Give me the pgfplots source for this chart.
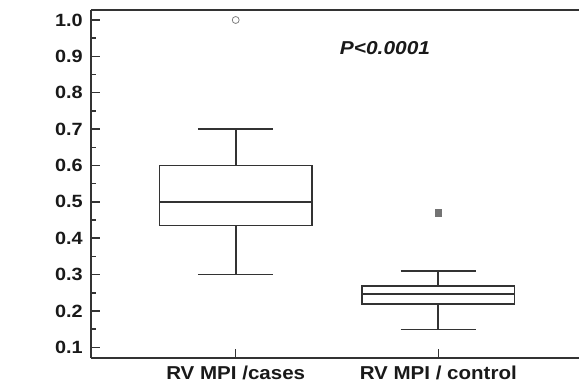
\documentclass[border=0pt]{standalone}
\usepackage{fontspec}
\setmainfont{Liberation Sans}
\usepackage{pgfplots}
\pgfplotsset{compat=1.18}
\usepgfplotslibrary{statistics}
\definecolor{lc}{HTML}{333333}
\begin{document}
\begin{tikzpicture}
\useasboundingbox (-68.25pt,-21.2pt) rectangle (366pt,268.3pt);
\begin{axis}[
  at={(0,0)}, anchor=south west,
  scale only axis, width=366pt, height=260.8pt,
  xmin=0.2858, xmax=2.6945, ymin=0.0714, ymax=1.0275,
  axis x line*=box, axis y line*=left,
  axis line style={lc, line width=1.5pt},
  every tick/.style={lc, line width=1.1pt},
  tick align=inside,
  major tick length=6.75pt, minor tick length=3.75pt,
  xtick={1,2}, xtick pos=left,
  xticklabels={RV MPI /cases, RV MPI / control},
  ytick={0.1,0.2,0.3,0.4,0.5,0.6,0.7,0.8,0.9,1.0},
  yticklabels={0.1,0.2,0.3,0.4,0.5,0.6,0.7,0.8,0.9,1.0},
  minor y tick num=1,
  yticklabel style={font=\bfseries\fontsize{13.3}{15}\selectfont, xscale=1.12, text=black!90, xshift=-2pt},
  xticklabel style={font=\bfseries\fontsize{14}{16}\selectfont, xscale=1.1, text=black!90, yshift=-2.5pt},
  boxplot/draw direction=y,
  clip=false,
]
\addplot[boxplot prepared={median=0.5, upper quartile=0.6, lower quartile=0.435,
   upper whisker=0.7, lower whisker=0.3, draw position=1,
   box extend=0.753, whisker extend=0.373, draw direction=y},
   draw=lc, line width=1.3pt,
   mark=o, mark size=2.6pt, mark options={draw=gray, line width=0.6pt, fill=white}]
  table[row sep=\\, y index=0]{1.0\\};
\addplot[boxplot prepared={median=0.2475, upper quartile=0.2687, lower quartile=0.22,
   upper whisker=0.309, lower whisker=0.149, draw position=2,
   box extend=0.753, whisker extend=0.373, draw direction=y},
   draw=lc, line width=1.3pt,
   mark=square*, mark size=2.4pt, mark options={fill=black!55, draw=black!55, line width=0.2pt}]
  table[row sep=\\, y index=0]{0.47\\};
\node[font=\bfseries\itshape\fontsize{14}{16}\selectfont, xscale=1.12, text=black!90] at (axis cs:1.737,0.923) {P<0.0001};
\end{axis}
\end{tikzpicture}
\end{document}
